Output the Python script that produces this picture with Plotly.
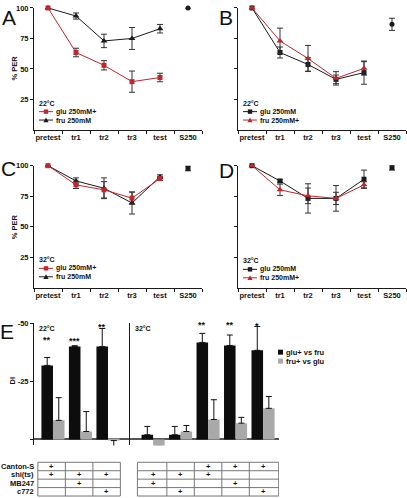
import plotly.graph_objects as go

W, H = 407, 498

# ---------------- data ----------------
phases = ["pretest", "tr1", "tr2", "tr3", "test"]
s250_cat = ["S250"]
categories = phases + s250_cat

# Panel A (22°C): glu 250mM+ (red) vs fru 250mM (black)
A_glu = [100, 63.5, 53.0, 39.6, 43.0]
A_glu_err = [0, 3.5, 3.8, 8.7, 3.5]
A_fru = [100, 93.4, 73.0, 75.0, 83.0]
A_fru_err = [0, 2.5, 5.5, 9.0, 3.5]
A_s250 = [100]
A_s250_err = [0]

# Panel B (22°C): glu 250mM (black) vs fru 250mM+ (red)
B_glu = [100, 63.5, 53.7, 41.5, 47.0]
B_glu_err = [0, 4.5, 5.5, 3.5, 9.5]
B_fru = [100, 73.0, 58.6, 42.3, 50.5]
B_fru_err = [0, 10.5, 10.7, 5.5, 5.5]
B_s250 = [86.6]
B_s250_err = [5]

# Panel C (32°C): glu 250mM+ (red) vs fru 250mM (black)
C_glu = [100, 84.3, 80.2, 73.4, 89.4]
C_glu_err = [0, 3.0, 6.7, 5.0, 1.5]
C_fru = [100, 87.5, 81.5, 69.4, 91.0]
C_fru_err = [0, 2.5, 8.5, 9.0, 1.5]
C_s250 = [97.8]
C_s250_err = [2]

# Panel D (32°C): glu 250mM (black) vs fru 250mM+ (red)
D_glu = [100, 87.5, 73.2, 73.2, 88.9]
D_glu_err = [0, 1.0, 12.0, 10.5, 7.5]
D_fru = [100, 80.2, 75.3, 73.2, 84.3]
D_fru_err = [0, 4.7, 6.4, 5.0, 2.5]
D_s250 = [98.4]
D_s250_err = [2]

# Panel E: discrimination index
E22_groups = ["CS/shi", "shi/MB247", "shi/c772"]
E32_groups = ["shi/MB247 ", "shi/c772 ", "CS/shi ", "CS/MB247 ", "CS/c772 "]
E22_glu = [-31.9, -40.0, -40.0]
E22_glu_err = [3.4, 0.4, 7.8]
E22_fru = [-8.2, -3.4, 0.5]
E22_fru_err = [9.8, 8.6, 4.7]
E32_glu = [-2.0, -2.0, -41.8, -40.5, -38.4]
E32_glu_err = [3.6, 3.6, 3.9, 4.5, 10.3]
E32_fru = [3.0, -3.4, -8.6, -7.0, -13.4]
E32_fru_err = [4.3, 2.6, 8.5, 2.5, 5.1]
E22_sig = ["**", "***", "**"]
E32_sig = ["", "", "**", "**", "*"]

E_series = ["glu+ vs fru", "fru+ vs glu"]
table_rows = ["Canton-S", "shi(ts)", "MB247", "c772"]
table22 = [[1, 0, 0], [1, 1, 1], [0, 1, 0], [0, 0, 1]]
table32 = [[0, 0, 1, 1, 1], [1, 1, 1, 0, 0], [1, 0, 0, 1, 0], [0, 1, 0, 0, 1]]

# ---------------- styling ----------------
RED = "#c0272d"
BLK = "#1a1a1a"
GRAY = "#a9a9a9"
FONT = "Liberation Sans, Arial, sans-serif"


def px(x):
    return x / W


def py(y):
    return 1 - y / H


fig = go.Figure()


def err(vals):
    return dict(type="data", array=vals, visible=True, color="#333", thickness=1, width=3)


def add_line(vals, errs, color, symbol, xa, ya, size):
    fig.add_trace(go.Scatter(
        x=phases, y=vals, error_y=err(errs), mode="lines+markers",
        line=dict(color=color, width=1), marker=dict(color=color, symbol=symbol, size=size),
        xaxis=xa, yaxis=ya, showlegend=False, cliponaxis=False))


def add_s250(vals, errs, symbol, xa, ya):
    fig.add_trace(go.Scatter(
        x=s250_cat, y=vals, error_y=err(errs), mode="markers",
        marker=dict(color=BLK, symbol=symbol, size=5),
        xaxis=xa, yaxis=ya, showlegend=False, cliponaxis=False))


add_line(A_fru, A_fru_err, BLK, "triangle-up", "x", "y", 6)
add_line(A_glu, A_glu_err, RED, "square", "x", "y", 5)
add_s250(A_s250, A_s250_err, "circle", "x", "y")

add_line(B_glu, B_glu_err, BLK, "square", "x2", "y2", 5)
add_line(B_fru, B_fru_err, RED, "triangle-up", "x2", "y2", 6)
add_s250(B_s250, B_s250_err, "circle", "x2", "y2")

add_line(C_fru, C_fru_err, BLK, "triangle-up", "x3", "y3", 6)
add_line(C_glu, C_glu_err, RED, "square", "x3", "y3", 5)
add_s250(C_s250, C_s250_err, "square", "x3", "y3")

add_line(D_glu, D_glu_err, BLK, "square", "x4", "y4", 5)
add_line(D_fru, D_fru_err, RED, "triangle-up", "x4", "y4", 6)
add_s250(D_s250, D_s250_err, "square", "x4", "y4")


def bar_err(vals, errs):
    plus = [e if v >= 0 else 0 for v, e in zip(vals, errs)]
    minus = [e if v < 0 else 0 for v, e in zip(vals, errs)]
    return dict(type="data", symmetric=False, array=plus, arrayminus=minus,
                color="#111", thickness=1, width=3, visible=True)


for cats, glu, gerr, fru, ferr, xa, ya in [
        (E22_groups, E22_glu, E22_glu_err, E22_fru, E22_fru_err, "x5", "y5"),
        (E32_groups, E32_glu, E32_glu_err, E32_fru, E32_fru_err, "x6", "y6")]:
    fig.add_trace(go.Bar(x=cats, y=glu, error_y=bar_err(glu, gerr), marker=dict(color="#0d0d0d", line=dict(width=0)),
                         xaxis=xa, yaxis=ya, showlegend=False, cliponaxis=False, offsetgroup="g"))
    fig.add_trace(go.Bar(x=cats, y=fru, error_y=bar_err(fru, ferr), marker=dict(color=GRAY, line=dict(width=0)),
                         xaxis=xa, yaxis=ya, showlegend=False, cliponaxis=False, offsetgroup="f"))

BARGAP = 0.16

# ---------------- axes ----------------
axis_common = dict(showline=True, linecolor=BLK, linewidth=1, showgrid=False, zeroline=False,
                   ticks="outside", ticklen=3, tickcolor=BLK, tickwidth=1)

layout = dict(
    width=W, height=H, margin=dict(l=0, r=0, t=0, b=0),
    paper_bgcolor="white", plot_bgcolor="white",
    font=dict(family=FONT, size=7.5, color="#111", weight="bold"),
    barmode="group", bargap=BARGAP, bargroupgap=0,
    showlegend=False,
)

panels = [("", 34, 202, 4, 127, True), ("2", 238, 406, 4, 127, False),
          ("3", 34, 202, 163, 286, True), ("4", 238, 406, 163, 286, False)]
for s, x0, x1, y0, y1, lab in panels:
    layout["xaxis" + s] = dict(axis_common, domain=[px(x0), px(x1)], type="category",
                               categoryorder="array", categoryarray=categories, range=[-0.5, 5.5],
                               tickson="boundaries", tickangle=0, anchor="y" + s)
    layout["yaxis" + s] = dict(axis_common, domain=[py(y1), py(y0)], range=[0, 100],
                               tickvals=[25, 50, 75, 100], showticklabels=lab, anchor="x" + s)

E_top, E_bot = 322, 445
layout["xaxis5"] = dict(domain=[px(34), px(130)], type="category", categoryorder="array",
                        categoryarray=E22_groups, range=[-0.69, 2.8], showline=False,
                        showticklabels=False, ticks="", showgrid=False, zeroline=False, anchor="y5")
layout["xaxis6"] = dict(domain=[px(130), px(279)], type="category", categoryorder="array",
                        categoryarray=E32_groups, range=[-0.84, 4.58], showline=False,
                        showticklabels=False, ticks="", showgrid=False, zeroline=False, anchor="y6")
layout["yaxis5"] = dict(axis_common, domain=[py(E_bot), py(E_top)], range=[2.6, -50],
                        tickvals=[-50, -25, 0], ticktext=["-50", "-25", ""], anchor="x5",
                        zeroline=True, zerolinecolor="#555", zerolinewidth=1.5)
layout["yaxis6"] = dict(domain=[py(E_bot), py(E_top)], range=[2.6, -50], showline=True,
                        linecolor=BLK, linewidth=1, showticklabels=False, ticks="", showgrid=False,
                        anchor="x6", zeroline=True, zerolinecolor="#555", zerolinewidth=1.5)
fig.update_layout(**layout)

ann = []
shapes = []


def text(x, y, t, size=7.5, xanchor="center", yanchor="middle", angle=0, weight="bold", xref="paper", yref="paper"):
    ann.append(dict(x=x, y=y, xref=xref, yref=yref, text=t, showarrow=False,
                    xanchor=xanchor, yanchor=yanchor, textangle=angle, borderpad=0,
                    font=dict(family=FONT, size=size, color="#111", weight=weight)))


# panel letters
for L, x, y in [("A", 9, 13.5), ("B", 226, 13.5), ("C", 8, 165.5), ("D", 226, 167.5), ("E", 7, 330)]:
    text(px(x), py(y), L, size=21, weight="normal")

# y titles
text(px(14), py(65), "% PER", angle=-90)
text(px(14), py(225), "% PER", angle=-90)
text(px(12.5), py(380), "DI", angle=-90)


# manual legends for A-D
def glyph(x0, y, color, symbol):
    shapes.append(dict(type="line", xref="paper", yref="paper", x0=px(x0), x1=px(x0 + 14),
                       y0=py(y), y1=py(y), line=dict(color=color, width=1)))
    cx = x0 + 7
    if symbol == "square":
        shapes.append(dict(type="rect", xref="paper", yref="paper", x0=px(cx - 2.2), x1=px(cx + 2.2),
                           y0=py(y + 2.2), y1=py(y - 2.2), fillcolor=color, line=dict(width=0)))
    else:
        path = "M {},{} L {},{} L {},{} Z".format(px(cx - 2.6), py(y + 2.2), px(cx + 2.6), py(y + 2.2),
                                                  px(cx), py(y - 2.6))
        shapes.append(dict(type="path", xref="paper", yref="paper", path=path, fillcolor=color,
                           line=dict(width=0)))


legends = [
    (39, 100, "22°C", [("glu 250mM+", RED, "square"), ("fru 250mM", BLK, "triangle")]),
    (243, 100, "22°C", [("glu 250mM", BLK, "square"), ("fru 250mM+", RED, "triangle")]),
    (39, 258, "32°C", [("glu 250mM+", RED, "square"), ("fru 250mM", BLK, "triangle")]),
    (243, 259, "32°C", [("glu 250mM", BLK, "square"), ("fru 250mM+", RED, "triangle")]),
]
for x0, y0, title, items in legends:
    text(px(x0 - 1), py(y0), title, size=7, xanchor="left")
    for k, (name, col, sym) in enumerate(items):
        yy = y0 + 8.5 * (k + 1)
        glyph(x0, yy, col, sym)
        text(px(x0 + 16), py(yy), name, size=7, xanchor="left")

# panel E labels
text(px(38), py(327), "22°C", size=7, xanchor="left")
text(px(134), py(327), "32°C", size=7, xanchor="left")

# significance stars
star_y22 = [-43.0, -42.6, -48.6]
star_y32 = [-49.5, -49.5, -49.5, -49.5, -49.1]
off = (1 - BARGAP) / 4
for i, s in enumerate(E22_sig):
    if s:
        text(i - off, star_y22[i], s, size=9, xref="x5", yref="y5")
for i, s in enumerate(E32_sig):
    if s:
        text(i - off, star_y32[i], s, size=9, xref="x6", yref="y6")

# legend for E
for k, (name, col) in enumerate(zip(E_series, ["#0d0d0d", GRAY])):
    yy = 351 + 9 * k
    shapes.append(dict(type="rect", xref="paper", yref="paper", x0=px(278), x1=px(283),
                       y0=py(yy + 2.5), y1=py(yy - 2.5), fillcolor=col, line=dict(width=0)))
    text(px(285), py(yy), name, size=7.5, xanchor="left")

# genotype table
row_edges = [462, 470.5, 479, 487.5, 496]
for r, name in enumerate(table_rows):
    text(px(35), py((row_edges[r] + row_edges[r + 1]) / 2), name, size=7.5, xanchor="right")

TCOL = "#777"
for xref, mat, left, right in [("x5", table22, -0.55, 2.45), ("x6", table32, -0.57, 4.57)]:
    ncol = len(mat[0])
    shapes.append(dict(type="rect", xref=xref, yref="paper", x0=left, x1=right,
                       y0=py(row_edges[-1]), y1=py(row_edges[0]), line=dict(color=TCOL, width=1)))
    for c in range(1, ncol):
        xb = c - 0.5 + (-0.05 if xref == "x5" else 0)
        shapes.append(dict(type="line", xref=xref, yref="paper", x0=xb, x1=xb,
                           y0=py(row_edges[-1]), y1=py(row_edges[0]), line=dict(color=TCOL, width=1)))
    for yb in row_edges[1:-1]:
        shapes.append(dict(type="line", xref=xref, yref="paper", x0=left, x1=right,
                           y0=py(yb), y1=py(yb), line=dict(color=TCOL, width=1)))
    for r, row in enumerate(mat):
        for c, v in enumerate(row):
            if v:
                text(c + (-0.05 if xref == "x5" else 0), py((row_edges[r] + row_edges[r + 1]) / 2), "+",
                     size=7.5, xref=xref)

fig.update_layout(annotations=ann, shapes=shapes)
fig.write_html("out.html", config={"displayModeBar": False},
               post_script="document.body.style.margin='0px';")
